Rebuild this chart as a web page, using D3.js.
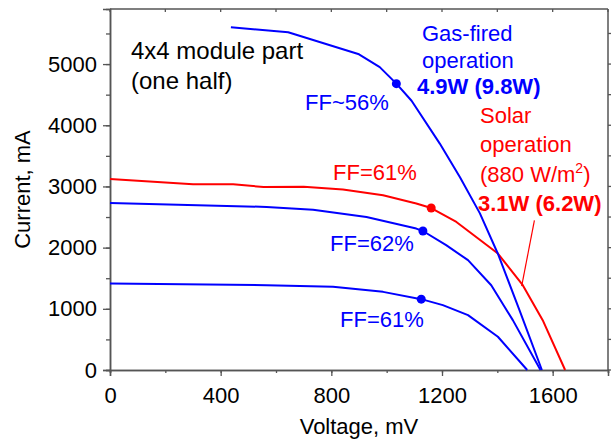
<!DOCTYPE html>
<html>
<head>
<meta charset="utf-8">
<script src="https://cdn.jsdelivr.net/npm/d3@7"></script>
<style>
  body { margin: 0; background: #fff; }
  text { font-family: "Liberation Sans", Arial, sans-serif; }
</style>
</head>
<body>
<svg id="chart"></svg>
<script>
// curves (voltage mV, current mA)
var gasV = [437, 644, 900, 975, 1035, 1090, 1192, 1265, 1337, 1402, 1480, 1561];
var gasI = [5600, 5520, 5160, 4950, 4680, 4400, 3700, 3150, 2560, 1900, 980, 0];

var solarV = [0, 300, 445, 555, 700, 842, 987, 1107, 1161, 1252, 1402, 1492, 1564, 1645];
var solarI = [3120, 3035, 3035, 2990, 2995, 2950, 2855, 2720, 2647, 2420, 1903, 1386, 815, 0];

var midV = [0, 566, 734, 927, 1107, 1131, 1215, 1294, 1378, 1456, 1556];
var midI = [2730, 2665, 2620, 2500, 2311, 2272, 2040, 1795, 1386, 815, 0];

var lowV = [0, 566, 806, 987, 1125, 1203, 1294, 1402, 1508];
var lowI = [1415, 1386, 1359, 1277, 1158, 1060, 897, 543, 0];

// max power points
var mppV = [1035, 1161, 1131, 1125];
var mppI = [4680, 2647, 2272, 1158];
var mppColor = ["blue", "red", "blue", "blue"];

// pointer from the solar label to its curve
var pointerV = [1534, 1488];
var pointerI = [2447, 1370];

var xTicks = [0, 400, 800, 1200, 1600];
var yTicks = [0, 1000, 2000, 3000, 4000, 5000];

var W = 614, H = 441;
var margin = { top: 9, right: 6, bottom: 71, left: 110 };

var svg = d3.select("#chart").attr("width", W).attr("height", H);

var x = d3.scaleLinear().domain([0, 1800]).range([margin.left, W - margin.right]);
var y = d3.scaleLinear().domain([0, 5900]).range([H - margin.bottom, margin.top]);

var axisColor = "#555";
var fs = 22;

// frame (top and right mirror axes)
var x0 = x(0), x1 = x(1800), y0 = y(0), y1 = y(5900);
svg.append("line").attr("x1", x0).attr("x2", x1).attr("y1", y1).attr("y2", y1)
  .attr("stroke", axisColor).attr("stroke-width", 1.5);
svg.append("line").attr("x1", x1).attr("x2", x1).attr("y1", y0).attr("y2", y1)
  .attr("stroke", axisColor).attr("stroke-width", 1.5);

var minorX = d3.range(0, 1801, 200);
var minorY = d3.range(0, 5901, 500);

// top ticks inward, right ticks outward
svg.selectAll(".tt").data(minorX).enter().append("line")
  .attr("x1", d => x(d)).attr("x2", d => x(d))
  .attr("y1", y1).attr("y2", y1 + 3)
  .attr("stroke", axisColor).attr("stroke-width", 1.3);
svg.selectAll(".rt").data(minorY).enter().append("line")
  .attr("x1", x1).attr("x2", x1 + 3)
  .attr("y1", d => y(d)).attr("y2", d => y(d))
  .attr("stroke", axisColor).attr("stroke-width", 1.3);

// bottom axis
var gx = svg.append("g").attr("transform", "translate(0," + y0 + ")")
  .call(d3.axisBottom(x).tickValues(minorX).tickSize(3).tickFormat(""));
var gx2 = svg.append("g").attr("transform", "translate(0," + y0 + ")")
  .call(d3.axisBottom(x).tickValues(xTicks).tickSize(6).tickPadding(8).tickFormat(d3.format("d")));
// left axis
var gy = svg.append("g").attr("transform", "translate(" + x0 + ",0)")
  .call(d3.axisLeft(y).tickValues(minorY).tickSize(4).tickFormat(""));
var gy2 = svg.append("g").attr("transform", "translate(" + x0 + ",0)")
  .call(d3.axisLeft(y).tickValues(yTicks).tickSize(7).tickPadding(6).tickFormat(d3.format("d")));

[gx, gx2, gy, gy2].forEach(function(g) {
  g.select(".domain").attr("stroke", axisColor).attr("stroke-width", 1.5);
  g.selectAll(".tick line").attr("stroke", axisColor).attr("stroke-width", 1.3);
  g.selectAll(".tick text").attr("fill", "#000")
    .style("font-size", fs + "px")
    .style("font-family", "'Liberation Sans', Arial, sans-serif");
});
gx2.selectAll(".tick text").attr("dy", "0.85em");

// axis titles
svg.append("text").attr("x", (x0 + x1) / 2).attr("y", 434)
  .attr("text-anchor", "middle").style("font-size", fs + "px").text("Voltage, mV");
svg.append("text")
  .attr("transform", "translate(30," + ((y0 + y1) / 2) + ") rotate(-90)")
  .attr("text-anchor", "middle").style("font-size", fs + "px").text("Current, mA");

// curves
var line = d3.line().x(d => x(d[0])).y(d => y(d[1]));
function pairs(vs, is) { return vs.map((v, i) => [v, is[i]]); }

var curves = [
  { pts: pairs(solarV, solarI), color: "red" },
  { pts: pairs(gasV, gasI), color: "blue" },
  { pts: pairs(midV, midI), color: "blue" },
  { pts: pairs(lowV, lowI), color: "blue" }
];
svg.selectAll(".curve").data(curves).enter().append("path")
  .attr("d", d => line(d.pts))
  .attr("fill", "none")
  .attr("stroke", d => d.color)
  .attr("stroke-width", 2)
  .attr("stroke-linejoin", "round");

svg.selectAll(".mpp").data(mppV).enter().append("circle")
  .attr("cx", d => x(d))
  .attr("cy", (d, i) => y(mppI[i]))
  .attr("r", 4.5)
  .attr("fill", (d, i) => mppColor[i]);

svg.append("path").attr("d", line(pairs(pointerV, pointerI)))
  .attr("stroke", "red").attr("stroke-width", 1.2).attr("fill", "none");

// labels
var labels = [
  { t: "4x4 module part", x: 131, y: 59, c: "#000", s: 24 },
  { t: "(one half)", x: 131, y: 89, c: "#000", s: 24 },
  { t: "Gas-fired", x: 422, y: 41, c: "blue" },
  { t: "operation", x: 422, y: 68, c: "blue" },
  { t: "4.9W (9.8W)", x: 417, y: 94, c: "blue", b: true },
  { t: "FF~56%", x: 305, y: 110, c: "blue" },
  { t: "Solar", x: 480, y: 123, c: "red" },
  { t: "operation", x: 480, y: 152, c: "red" },
  { t: "3.1W (6.2W)", x: 478, y: 211, c: "red", b: true },
  { t: "FF=61%", x: 333, y: 180, c: "red" },
  { t: "FF=62%", x: 330, y: 251, c: "blue" },
  { t: "FF=61%", x: 340, y: 327, c: "blue" }
];
svg.selectAll(".lbl").data(labels).enter().append("text")
  .attr("x", d => d.x).attr("y", d => d.y)
  .attr("fill", d => d.c)
  .style("font-size", d => (d.s || fs) + "px")
  .style("font-weight", d => d.b ? "bold" : "normal")
  .text(d => d.t);

var irr = svg.append("text").attr("x", 480).attr("y", 182)
  .attr("fill", "red").style("font-size", fs + "px");
irr.append("tspan").text("(880 W/m");
irr.append("tspan").attr("dy", -9).style("font-size", "14px").text("2");
irr.append("tspan").attr("dy", 9).text(")");
</script>
</body>
</html>
